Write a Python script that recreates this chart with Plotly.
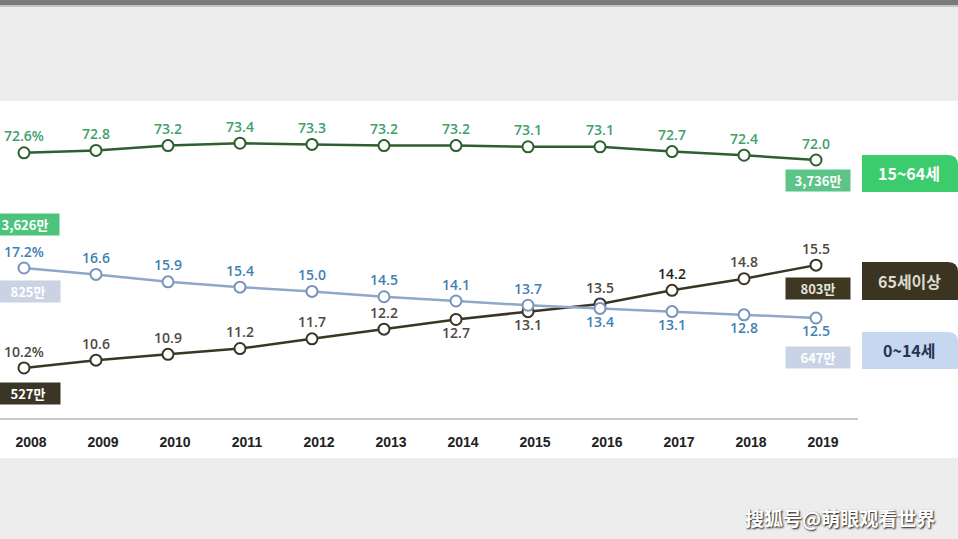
import plotly.graph_objects as go

W, H = 958, 539

years = [2008, 2009, 2010, 2011, 2012, 2013, 2014, 2015, 2016, 2017, 2018, 2019]
age_15_64 = [72.6, 72.8, 73.2, 73.4, 73.3, 73.2, 73.2, 73.1, 73.1, 72.7, 72.4, 72.0]
age_0_14 = [17.2, 16.6, 15.9, 15.4, 15.0, 14.5, 14.1, 13.7, 13.4, 13.1, 12.8, 12.5]
age_65_plus = [10.2, 10.6, 10.9, 11.2, 11.7, 12.2, 12.7, 13.1, 13.5, 14.2, 14.8, 15.5]

labels_15_64 = ["72.6%"] + [f"{v:.1f}" for v in age_15_64[1:]]
labels_0_14 = ["17.2%"] + [f"{v:.1f}" for v in age_0_14[1:]]
labels_65 = ["10.2%"] + [f"{v:.1f}" for v in age_65_plus[1:]]

pos_0_14 = ["top center"] * 8 + ["bottom center"] * 4
pos_65 = ["top center"] * 6 + ["bottom center"] * 2 + ["top center"] * 4

start_pop = {"15~64세": "3,626만", "0~14세": "825만", "65세이상": "527만"}
end_pop = {"15~64세": "3,736만", "0~14세": "647만", "65세이상": "803만"}
series_names = ["15~64세", "65세이상", "0~14세"]

GREEN_LINE = "#2e5f2e"
BLUE_LINE = "#8fa7c9"
BROWN_LINE = "#3a3625"

def px(x):
    return x / W

def py(y):
    return 1 - y / H

fig = go.Figure()

fig.add_trace(go.Scatter(
    x=years, y=age_15_64, yaxis="y3", mode="lines+markers+text",
    line=dict(color=GREEN_LINE, width=2.5),
    marker=dict(size=11, color="white", line=dict(color=GREEN_LINE, width=2)),
    text=labels_15_64, textposition="top center",
    textfont=dict(family="Open Sans", size=14, color="#3f9f6c", weight=600),
    cliponaxis=False, showlegend=False, hoverinfo="skip"))

fig.add_trace(go.Scatter(
    x=years, y=age_0_14, yaxis="y2", mode="lines+markers+text",
    line=dict(color=BLUE_LINE, width=2.5),
    marker=dict(size=11, color="white", line=dict(color="#7893bd", width=2)),
    text=labels_0_14, textposition=pos_0_14,
    textfont=dict(family="Open Sans", size=14, color="#3f80b4", weight=600),
    cliponaxis=False, showlegend=False, hoverinfo="skip"))

brown_colors = ["#4d4a40"] * 12
brown_colors[9] = "#1e1e1e"
fig.add_trace(go.Scatter(
    x=years, y=age_65_plus, yaxis="y", mode="lines+markers+text",
    line=dict(color=BROWN_LINE, width=2.5),
    marker=dict(size=11, color="white", line=dict(color=BROWN_LINE, width=2)),
    text=labels_65, textposition=pos_65,
    textfont=dict(family="Open Sans", size=14, color=brown_colors, weight=600),
    cliponaxis=False, showlegend=False, hoverinfo="skip"))

shapes = [
    dict(type="rect", xref="paper", yref="paper", x0=0, x1=1, y0=py(458), y1=py(101),
         fillcolor="white", line=dict(width=0), layer="below"),
    dict(type="rect", xref="paper", yref="paper", x0=0, x1=1, y0=py(5), y1=1,
         fillcolor="#7a7a7a", line=dict(width=0), layer="below"),
    dict(type="rect", xref="paper", yref="paper", x0=0, x1=1, y0=py(7), y1=py(5),
         fillcolor="#c4c4c4", line=dict(width=0), layer="below"),
]

def legend_box(y0, y1, color):
    x0, x1 = px(862), px(958)
    r = 10
    return dict(type="path", xref="paper", yref="paper",
                path=(f"M {x0},{py(y1)} L {x0},{py(y0)} L {px(958 - r)},{py(y0)} "
                      f"Q {x1},{py(y0)} {x1},{py(y0 + r)} L {x1},{py(y1)} Z"),
                fillcolor=color, line=dict(width=0), layer="above")

shapes.append(legend_box(155, 192, "#3ccb6d"))
shapes.append(legend_box(262, 300, "#3b3420"))
shapes.append(legend_box(332, 369, "#c6d7f0"))

annotations = []

def pop_box(text, cx, cy, color, w=64, h=21, fcolor="white"):
    annotations.append(dict(
        text=text, xref="paper", yref="paper", x=px(cx), y=py(cy),
        xanchor="center", yanchor="middle", showarrow=False,
        bgcolor=color, width=w, height=h, borderpad=0,
        font=dict(family="Noto Sans CJK KR", size=13, color=fcolor, weight="bold")))

pop_box(start_pop["15~64세"], 25, 224, "#4cc47c", w=68)
pop_box(start_pop["0~14세"], 28, 291, "#c9d3e4")
pop_box(start_pop["65세이상"], 28, 393, "#3a3524")
pop_box(end_pop["15~64세"], 818, 181, "#5cc487")
pop_box(end_pop["65세이상"], 818, 288, "#3e3822", fcolor="#e6e4dc")
pop_box(end_pop["0~14세"], 818, 357, "#c9d3e6")

legend_text_colors = {"15~64세": "white", "65세이상": "#dcdad2", "0~14세": "#263255"}
legend_centers = {"15~64세": 173, "65세이상": 281, "0~14세": 350}
for name in series_names:
    annotations.append(dict(
        text=name, xref="paper", yref="paper", x=px(909), y=py(legend_centers[name]),
        xanchor="center", yanchor="middle", showarrow=False,
        font=dict(family="Noto Sans CJK KR", size=16, color=legend_text_colors[name],
                  weight="bold")))

annotations.append(dict(
    text="搜狐号@萌眼观看世界", xref="paper", yref="paper", x=px(937), y=py(517),
    xanchor="right", yanchor="middle", showarrow=False,
    font=dict(family="Noto Sans CJK SC", size=19, color="white", weight="bold",
              shadow="1px 1px 2px #111")))

ydom = [py(418), py(101)]

fig.update_layout(
    width=W, height=H,
    margin=dict(l=0, r=0, t=0, b=0),
    paper_bgcolor="#ededed",
    plot_bgcolor="rgba(0,0,0,0)",
    shapes=shapes,
    annotations=annotations,
    xaxis=dict(
        domain=[0, px(858)], range=[2007.667, 2019.583],
        tickvals=years, ticktext=[str(y) for y in years],
        tickfont=dict(family="Liberation Sans", size=14,
                      color="#222222", weight="bold"),
        ticks="outside", ticklen=10, tickcolor="rgba(0,0,0,0)",
        ticklabelshift=7,
        showline=True, linecolor="#c8c8c8", linewidth=2,
        showgrid=False, zeroline=False, automargin=False, fixedrange=True),
    yaxis=dict(domain=ydom, range=[7.62, 23.96], visible=False, fixedrange=True),
    yaxis2=dict(range=[3.10, 32.9], overlaying="y", visible=False, fixedrange=True),
    yaxis3=dict(range=[50.5, 76.917], overlaying="y", visible=False, fixedrange=True),
)

fig.write_html(
    "out.html",
    config={"displayModeBar": False},
    post_script="document.body.style.margin='0';document.body.style.overflow='hidden';",
)
